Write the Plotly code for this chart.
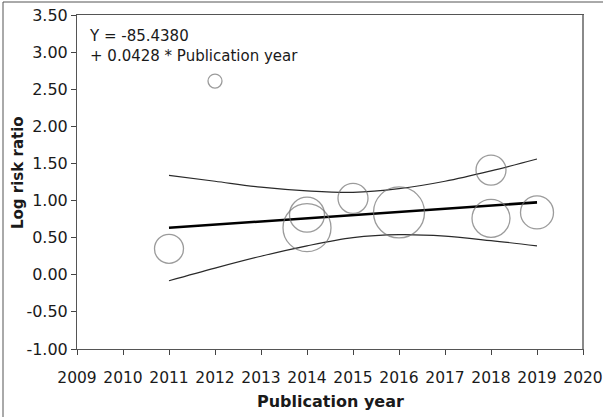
import plotly.graph_objects as go

# Study-level log risk ratios by publication year; bubble diameter reflects study weight
study_year = [2011, 2012, 2014, 2014, 2015, 2016, 2018, 2018, 2019]
log_rr = [0.35, 2.61, 0.81, 0.635, 1.03, 0.84, 1.41, 0.76, 0.84]
bubble_px = [29, 14, 35, 48, 30, 51, 30, 38, 33]

# Meta-regression: Y = -85.4380 + 0.0428 * Publication year
intercept = -85.4380
slope = 0.0428
fit_years = [2011, 2019]

# 95% confidence band around the fitted line
band_years = [2011, 2012, 2013, 2014, 2015, 2016, 2017, 2018, 2019]
band_upper = [1.34, 1.26, 1.18, 1.13, 1.11, 1.16, 1.26, 1.40, 1.56]
band_lower = [-0.08, 0.09, 0.25, 0.39, 0.50, 0.54, 0.52, 0.46, 0.39]

x_ticks = list(range(2009, 2021))
y_ticks = [-1.0, -0.5, 0.0, 0.5, 1.0, 1.5, 2.0, 2.5, 3.0, 3.5]

FONT = "DejaVu Sans"
INK = "#1a1a1a"

fig = go.Figure()

for band in (band_upper, band_lower):
    fig.add_trace(go.Scatter(
        x=band_years, y=band, mode="lines",
        line=dict(color="#2a2a2a", width=1.2, shape="spline", smoothing=1.0),
        hoverinfo="skip", showlegend=False))

fit_vals = [intercept + slope * yr for yr in fit_years]
fig.add_trace(go.Scatter(
    x=fit_years, y=fit_vals, mode="lines",
    line=dict(color="black", width=2.6),
    hoverinfo="skip", showlegend=False))

fig.add_trace(go.Scatter(
    x=study_year, y=log_rr, mode="markers",
    marker=dict(symbol="circle-open", size=bubble_px,
                color="#707070", line=dict(color="#707070", width=1.3)),
    showlegend=False))

L, R, T, B = 77, 20, 15, 68
W, H = 603, 417
pw, ph = W - L - R, H - T - B

fig.update_xaxes(
    range=[2009, 2020], tickvals=x_ticks, ticktext=[str(v) for v in x_ticks],
    ticks="outside", ticklen=5, tickcolor="#444", tickwidth=1,
    ticklabelstandoff=9, ticklabeloverflow="allow", automargin=False,
    showline=True, linecolor="#555", linewidth=1, mirror=True,
    showgrid=False, zeroline=False,
    tickfont=dict(family=FONT, size=15.5, color=INK))
fig.update_yaxes(
    range=[-1, 3.5], tickvals=y_ticks, ticktext=[f"{v:.2f}" for v in y_ticks],
    ticks="outside", ticklen=5, tickcolor="#444", tickwidth=1,
    ticklabeloverflow="allow", automargin=False,
    showline=True, linecolor="#555", linewidth=1, mirror=True,
    showgrid=False, zeroline=False,
    tickfont=dict(family=FONT, size=16, color=INK))

annotations = [
    dict(text="Y = -85.4380<br>+ 0.0428 * Publication year", align="left",
         xref="paper", yref="paper",
         x=(87 - L) / pw, y=1 - (25 - T) / ph, xanchor="left", yanchor="top",
         showarrow=False, font=dict(family=FONT, size=15, color=INK)),
    dict(text="<b>Publication year</b>", xref="paper", yref="paper",
         x=0.5, y=-(401 - (H - B)) / ph, xanchor="center", yanchor="middle",
         showarrow=False, font=dict(family=FONT, size=16, color=INK)),
    dict(text="<b>Log risk ratio</b>", xref="paper", yref="paper",
         x=(18 - L) / pw, y=((H - B) - 173) / ph, xanchor="center", yanchor="middle",
         textangle=-90, showarrow=False,
         font=dict(family=FONT, size=15, color=INK)),
]

shapes = [
    # right side of the plot frame drawn heavier
    dict(type="line", xref="paper", yref="paper", x0=1, x1=1, y0=0, y1=1,
         line=dict(color="#8a8a8a", width=2)),
    # outer figure border (left and top)
    dict(type="line", xref="paper", yref="paper",
         x0=(3 - L) / pw, x1=(3 - L) / pw, y0=-(H - T) / ph, y1=1 + (T - 2) / ph,
         line=dict(color="#555", width=1)),
    dict(type="line", xref="paper", yref="paper",
         x0=(3 - L) / pw, x1=(W + 5 - L) / pw, y0=1 + (T - 2) / ph, y1=1 + (T - 2) / ph,
         line=dict(color="#555", width=1)),
]

fig.update_layout(
    width=W, height=H,
    margin=dict(l=L, r=R, t=T, b=B),
    paper_bgcolor="white", plot_bgcolor="white",
    annotations=annotations, shapes=shapes,
    showlegend=False)

fig.write_html("out.html")
